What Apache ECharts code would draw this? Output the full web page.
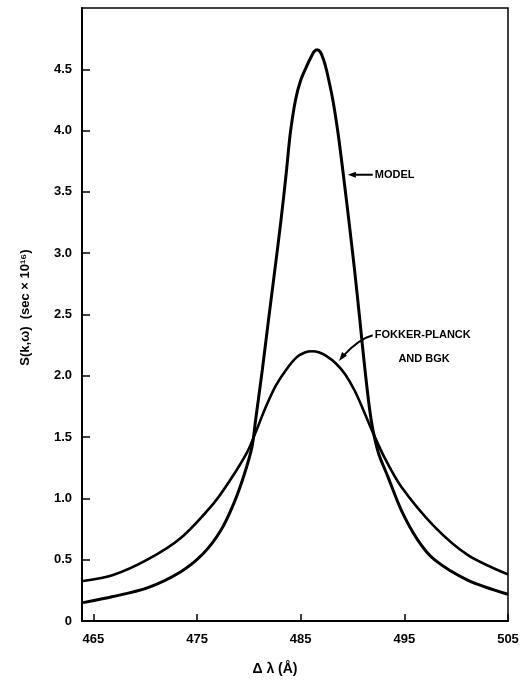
<!DOCTYPE html>
<html>
<head>
<meta charset="utf-8">
<script src="https://cdn.jsdelivr.net/npm/echarts@6/dist/echarts.min.js"></script>
<style>
html,body{margin:0;padding:0;background:#fff;}
#chart{width:529px;height:685px;}
</style>
</head>
<body>
<div id="chart"></div>
<script>
// Data
var xTicks = [465, 475, 485, 495, 505];
var yTicks = [0, 0.5, 1.0, 1.5, 2.0, 2.5, 3.0, 3.5, 4.0, 4.5];

var modelX = [464.0, 466.9, 470.2, 473.4, 475.6, 477.3, 478.55, 479.5, 480.3, 480.65, 481.3, 481.9, 482.5, 483.1, 483.6, 484.0, 484.5, 485.0, 485.6, 486.0, 486.3, 486.6, 486.9, 487.2, 487.5, 488.1, 488.6, 489.1, 489.6, 490.2, 490.7, 491.2, 491.8, 492.5, 493.4, 494.7, 496.3, 497.9, 501.1, 505.0];
var modelY = [0.15, 0.20, 0.27, 0.40, 0.55, 0.74, 0.96, 1.18, 1.42, 1.64, 2.05, 2.46, 2.86, 3.27, 3.65, 3.98, 4.25, 4.41, 4.53, 4.60, 4.645, 4.66, 4.64, 4.58, 4.49, 4.25, 3.98, 3.65, 3.30, 2.86, 2.46, 2.05, 1.64, 1.37, 1.18, 0.905, 0.66, 0.50, 0.334, 0.218];

var fpX = [464.0, 466.9, 470.2, 473.4, 476.6, 478.2, 479.85, 480.8, 481.6, 482.6, 483.6, 484.6, 485.4, 486.1, 486.8, 487.5, 488.4, 489.3, 490.2, 491.0, 492.0, 493.1, 494.7, 497.9, 501.1, 505.0];
var fpY = [0.326, 0.375, 0.50, 0.675, 0.96, 1.15, 1.38, 1.57, 1.74, 1.92, 2.05, 2.15, 2.19, 2.20, 2.19, 2.16, 2.10, 2.01, 1.88, 1.73, 1.53, 1.33, 1.095, 0.77, 0.54, 0.38];

var seriesNames = ['MODEL', 'FOKKER-PLANCK AND BGK'];

function pairs(xs, ys) { return xs.map(function (x, i) { return [x, ys[i]]; }); }

var FONT = 'Liberation Sans';
var chart = echarts.init(document.getElementById('chart'), null, {renderer: 'canvas'});

var option = {
  animation: false,
  backgroundColor: '#fff',
  grid: {left: 82, right: 21, top: 8, bottom: 64, show: true, borderColor: '#000', borderWidth: 1.5, backgroundColor: 'transparent'},
  xAxis: {
    type: 'value', min: 463.9, max: 505.0,
    name: 'Δ λ (Å)', nameLocation: 'middle', nameGap: 41,
    nameTextStyle: {fontFamily: FONT, fontWeight: 'bold', fontSize: 14, color: '#000', padding: [0, 40, 0, 0]},
    axisLine: {show: true, lineStyle: {color: '#000', width: 2}},
    axisTick: {show: true, inside: true, length: 7, lineStyle: {color: '#000', width: 1.5}, customValues: xTicks},
    axisLabel: {show: true, margin: 12, fontFamily: FONT, fontWeight: 'bold', fontSize: 13, color: '#000', customValues: xTicks, formatter: function (v) { return String(v); }},
    splitLine: {show: false}
  },
  yAxis: {
    type: 'value', min: 0, max: 5.0,
    name: 'S(k,ω)  (sec × 10¹⁶)', nameLocation: 'middle', nameGap: 50, nameRotate: 90,
    nameTextStyle: {fontFamily: FONT, fontWeight: 'bold', fontSize: 13, color: '#000', padding: [0, 0, 0, 14]},
    axisLine: {show: true, lineStyle: {color: '#000', width: 2}},
    axisTick: {show: true, inside: true, length: 8, lineStyle: {color: '#000', width: 1.5}, customValues: yTicks.slice(1)},
    axisLabel: {show: true, margin: 10, fontFamily: FONT, fontWeight: 'bold', fontSize: 13, color: '#000', customValues: yTicks,
      formatter: function (v) { return v === 0 ? '0' : v.toFixed(1); }},
    splitLine: {show: false}
  },
  series: [
    {name: seriesNames[0], type: 'line', data: pairs(modelX, modelY), smooth: 0.3, showSymbol: false,
      lineStyle: {color: '#000', width: 3}},
    {name: seriesNames[1], type: 'line', data: pairs(fpX, fpY), smooth: 0.3, showSymbol: false,
      lineStyle: {color: '#000', width: 2.6}}
  ]
};
chart.setOption(option);

// Annotations anchored in data coordinates
function px(x, y) { return chart.convertToPixel({gridIndex: 0}, [x, y]); }
var mTip = px(489.55, 3.64), mTail = px(491.95, 3.64), mText = px(492.15, 3.64);
var fTip = px(488.7, 2.12), fCtrl = px(490.6, 2.30), fTail = px(491.95, 2.33), fText = px(492.15, 2.33), fText2 = px(496.9, 2.14);

function arrowHead(tip, from, len, half) {
  var dx = tip[0] - from[0], dy = tip[1] - from[1];
  var d = Math.sqrt(dx * dx + dy * dy); dx /= d; dy /= d;
  var bx = tip[0] - dx * len, by = tip[1] - dy * len;
  return [[tip[0], tip[1]], [bx - dy * half, by + dx * half], [bx + dy * half, by - dx * half]];
}

chart.setOption({
  graphic: [
    {type: 'line', shape: {x1: mTail[0], y1: mTail[1], x2: mTip[0] + 4, y2: mTip[1]}, style: {stroke: '#000', lineWidth: 2}},
    {type: 'polygon', shape: {points: arrowHead(mTip, mTail, 8, 3)}, style: {fill: '#000'}},
    {type: 'text', x: mText[0], y: mText[1], style: {text: seriesNames[0], fontFamily: FONT, fontWeight: 'bold', fontSize: 11, fill: '#000', verticalAlign: 'middle', align: 'left'}},
    {type: 'bezierCurve', shape: {x1: fTail[0], y1: fTail[1], cpx1: fCtrl[0], cpy1: fCtrl[1], x2: fTip[0] + 4, y2: fTip[1] - 5}, style: {stroke: '#000', lineWidth: 2, fill: null}},
    {type: 'polygon', shape: {points: arrowHead(fTip, [fTip[0] + 6, fTip[1] - 8], 9, 3)}, style: {fill: '#000'}},
    {type: 'text', x: fText[0], y: fText[1], style: {text: 'FOKKER-PLANCK', fontFamily: FONT, fontWeight: 'bold', fontSize: 11, fill: '#000', verticalAlign: 'middle', align: 'left'}},
    {type: 'text', x: fText2[0], y: fText2[1], style: {text: 'AND BGK', fontFamily: FONT, fontWeight: 'bold', fontSize: 11, fill: '#000', verticalAlign: 'middle', align: 'center'}}
  ]
});
</script>
</body>
</html>
